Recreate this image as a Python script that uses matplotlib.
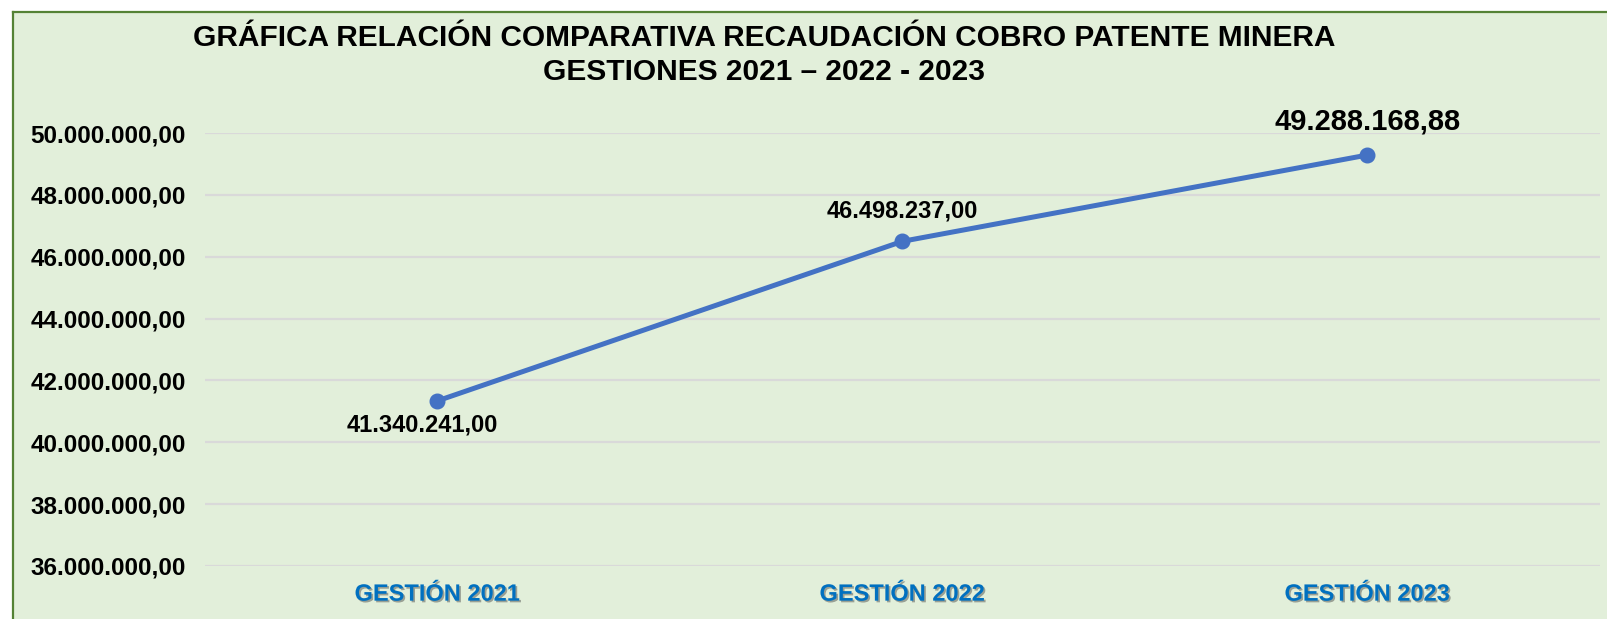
import matplotlib.pyplot as plt
import matplotlib.patheffects as pe
from matplotlib.patches import Rectangle
from matplotlib.ticker import FuncFormatter

plt.rcParams['font.family'] = ['Liberation Sans', 'DejaVu Sans']

gestiones = ["GESTIÓN 2021", "GESTIÓN 2022", "GESTIÓN 2023"]
recaudacion = [41340241.00, 46498237.00, 49288168.88]
etiquetas = ["41.340.241,00", "46.498.237,00", "49.288.168,88"]
# desplazamiento (px) y tamaño de cada etiqueta
offs = [(-15, -24), (0, 30), (0, 34)]
sizes = [17, 17, 21]
yticks = [36e6, 38e6, 40e6, 42e6, 44e6, 46e6, 48e6, 50e6]

W, H = 1608, 619
fig = plt.figure(figsize=(W/100, H/100), dpi=100)
fig.patch.set_facecolor("white")

# fondo verde con borde arriba/izquierda
fig.patches.append(Rectangle((13/W, 0), 1, 1 - 12/H, transform=fig.transFigure,
                             facecolor="#E2EFDA", edgecolor="none", zorder=-10))
fig.add_artist(plt.Line2D([13/W, 13/W], [0, 1 - 12/H], color="#548235", lw=1.6, zorder=-9))
fig.add_artist(plt.Line2D([13/W, 1], [1 - 12/H, 1 - 12/H], color="#548235", lw=1.6, zorder=-9))

ax = fig.add_axes([205/W, 1 - 566/H, (1600 - 205)/W, (566 - 133)/H])
ax.set_facecolor("none")

x = list(range(len(gestiones)))
ax.plot(x, recaudacion, color="#4472C4", lw=3.6, marker="o", ms=10.5, zorder=3)

for xi, yi, t, (dx, dy), s in zip(x, recaudacion, etiquetas, offs, sizes):
    ax.annotate(t, (xi, yi), xytext=(dx * 0.72, dy * 0.72), textcoords="offset points",
                ha="center", va="center", fontsize=s, fontweight="bold", annotation_clip=False)

ax.set_xlim(-0.5, 2.5)
ax.set_ylim(36e6, 50e6)
ax.set_yticks(yticks)
ax.yaxis.set_major_formatter(FuncFormatter(
    lambda v, p: f"{v:,.2f}".replace(",", "X").replace(".", ",").replace("X", ".")))
ax.set_xticks(x)
ax.set_xticklabels(gestiones)
ax.grid(axis="y", color="#D9D9D9", lw=1.6)
ax.set_axisbelow(True)
for s in ax.spines.values():
    s.set_visible(False)
ax.tick_params(length=0)
ax.tick_params(axis="y", labelsize=17.5, pad=14)
ax.tick_params(axis="x", labelsize=17, pad=12, labelcolor="#0070C0")
for lab in ax.get_yticklabels():
    lab.set_fontweight("bold")
for lab in ax.get_xticklabels():
    lab.set_fontweight("bold")
    lab.set_path_effects([pe.withSimplePatchShadow(offset=(1.2, -1.2), shadow_rgbFace="#404040", alpha=0.45)])

fig.text(764/W, 1 - 55/H, "GRÁFICA RELACIÓN COMPARATIVA RECAUDACIÓN COBRO PATENTE MINERA\nGESTIONES 2021 – 2022 - 2023",
         ha="center", va="center", fontsize=21.5, fontweight="bold", linespacing=1.3)

fig.savefig("out.png", dpi=100)
